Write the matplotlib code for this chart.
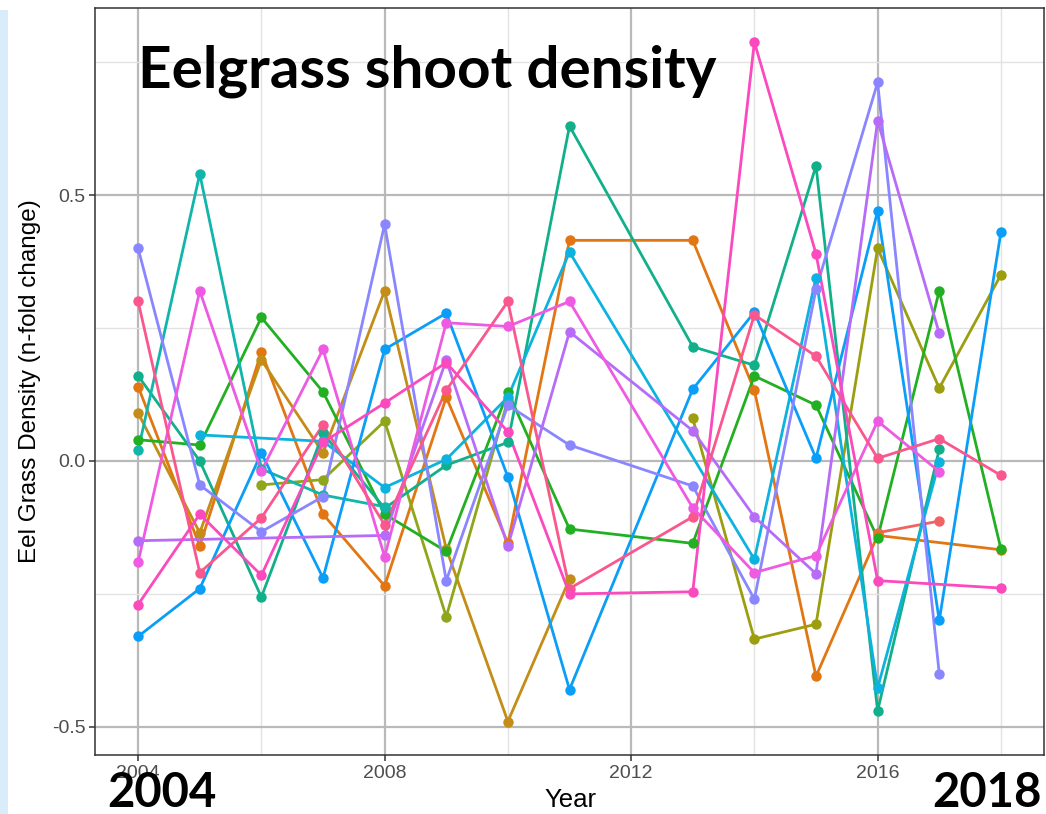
import matplotlib
matplotlib.use("Agg")
import matplotlib.pyplot as plt
from matplotlib.patches import Rectangle
from matplotlib.ticker import FixedLocator

YEARS = [2004, 2005, 2006, 2007, 2008, 2009, 2010, 2011, 2013, 2014, 2015, 2016, 2017, 2018]

# n-fold change per site; None = site not sampled that year
BLUE = [-0.33, -0.24, 0.015, -0.22, 0.21, 0.278, -0.03, -0.43, 0.135, 0.28, 0.005, 0.47, -0.30, 0.43]
TEAL_GREEN = [0.16, 0.0, -0.256, 0.052, -0.089, -0.008, 0.035, 0.63, 0.215, 0.18, 0.555, -0.47, 0.022, None]
TEAL = [0.02, 0.54, -0.015, -0.064, -0.086, None, None, None, None, None, None, None, None, None]
CYAN = [None, 0.049, None, 0.037, -0.05, 0.003, 0.12, 0.393, None, -0.185, 0.345, -0.427, -0.002, None]
PERIWINKLE = [0.40, -0.045, -0.133, -0.067, 0.445, -0.225, 0.105, 0.03, -0.047, -0.26, 0.323, 0.712, -0.40, None]
PURPLE = [-0.15, None, None, None, -0.14, 0.19, -0.16, 0.243, 0.057, -0.105, -0.212, 0.64, 0.24, None]
MAGENTA = [-0.19, 0.32, -0.019, 0.21, -0.18, 0.26, 0.253, 0.30, -0.088, -0.21, -0.178, 0.075, -0.02, None]
PINK = [-0.27, -0.10, -0.215, 0.035, 0.109, 0.185, 0.055, -0.25, -0.246, 0.788, 0.39, -0.225, None, -0.239]
ROSE = [0.30, -0.21, -0.107, 0.068, -0.12, 0.133, 0.30, -0.24, -0.105, 0.275, 0.197, 0.005, 0.042, -0.027]
SALMON = [None, None, None, None, None, None, None, None, None, None, None, -0.135, -0.113, None]
ORANGE = [0.14, -0.16, 0.205, -0.10, -0.235, 0.12, -0.155, 0.415, 0.415, 0.133, -0.405, -0.14, None, -0.167]
GOLD = [0.09, -0.135, 0.19, 0.015, 0.32, -0.165, -0.49, -0.222, None, None, None, None, None, None]
OLIVE_A = [None, None, -0.045, -0.035, 0.075, -0.293, 0.115, None, None, None, None, None, None, None]
OLIVE_B = [None, None, None, None, None, None, None, None, 0.08, -0.335, -0.307, 0.40, 0.137, 0.35]
GREEN = [0.04, 0.03, 0.27, 0.13, -0.10, -0.17, 0.13, -0.128, -0.155, 0.16, 0.105, -0.145, 0.32, -0.165]

SERIES = [
    (SALMON, "#F26262"),
    (ORANGE, "#E27612"),
    (GOLD, "#C38D17"),
    (OLIVE_A, "#8FA51A"),
    (OLIVE_B, "#9C9E10"),
    (GREEN, "#22B022"),
    (TEAL_GREEN, "#12B08A"),
    (TEAL, "#12B5AA"),
    (CYAN, "#0DB2DE"),
    (BLUE, "#0A9EF8"),
    (PERIWINKLE, "#8986FF"),
    (PURPLE, "#B66CF8"),
    (MAGENTA, "#EE5AE2"),
    (ROSE, "#F9578E"),
    (PINK, "#FB49BE"),
]

W, H = 1046, 814
fig = plt.figure(figsize=(W / 100, H / 100), dpi=100)
fig.patch.set_facecolor("white")
fig.patches.append(Rectangle((0, 0), 8 / W, 804 / H, transform=fig.transFigure,
                             facecolor="#D8ECFA", edgecolor="none", zorder=0))

L, R, T, B = 95, 1044, 8, 755
ax = fig.add_axes([L / W, 1 - B / H, (R - L) / W, (B - T) / H])

pts = []
for vals, col in SERIES:
    xs = [y for y, v in zip(YEARS, vals) if v is not None]
    ys = [v for v in vals if v is not None]
    ax.plot(xs, ys, color=col, lw=2.0, zorder=3, solid_capstyle="round")
    pts.append((xs, ys, col))
# points go on top of every line
for xs, ys, col in pts:
    ax.plot(xs, ys, "o", color=col, ms=7.5, mec="none", zorder=4)

ax.set_xlim(2003.3, 2018.7)
ax.set_ylim(-0.553, 0.852)

ax.xaxis.set_major_locator(FixedLocator([2004, 2008, 2012, 2016]))
ax.xaxis.set_minor_locator(FixedLocator([2006, 2010, 2014, 2018]))
ax.yaxis.set_major_locator(FixedLocator([-0.5, 0.0, 0.5]))
ax.yaxis.set_minor_locator(FixedLocator([-0.25, 0.25, 0.75]))
ax.set_xticklabels(["2004", "2008", "2012", "2016"])
ax.set_yticklabels(["-0.5", "0.0", "0.5"])
ax.grid(which="major", color="#b9b9b9", lw=1.6, zorder=1)
ax.grid(which="minor", color="#e2e2e2", lw=1.0, zorder=1)
ax.set_axisbelow(True)
ax.tick_params(which="major", length=4, width=1.1, color="#333333",
               labelsize=14, labelcolor="#4D4D4D", pad=3)
ax.tick_params(which="minor", length=0)
for lab in ax.get_xticklabels() + ax.get_yticklabels():
    lab.set_family("Liberation Sans")
for s in ax.spines.values():
    s.set_color("#333333")
    s.set_linewidth(1.1)

fig.text(30 / W, 1 - 381 / H, "Eel Grass Density (n-fold change)", rotation=90,
         ha="center", va="center", fontsize=17.5, family="Liberation Sans", color="black")
fig.text(570 / W, 1 - 800 / H, "Year", ha="center", va="center",
         fontsize=18.5, family="Liberation Sans", color="black")

fig.text(138 / W, 1 - 88 / H, "Eelgrass shoot density", ha="left", va="baseline",
         fontsize=42, fontweight="bold", family="Lato", color="black")
fig.text(107 / W, 1 - 807 / H, "2004", ha="left", va="baseline",
         fontsize=34, fontweight="bold", family="Lato", color="black")
fig.text(1042 / W, 1 - 807 / H, "2018", ha="right", va="baseline",
         fontsize=34, fontweight="bold", family="Lato", color="black")

fig.savefig("out.png", dpi=100)
